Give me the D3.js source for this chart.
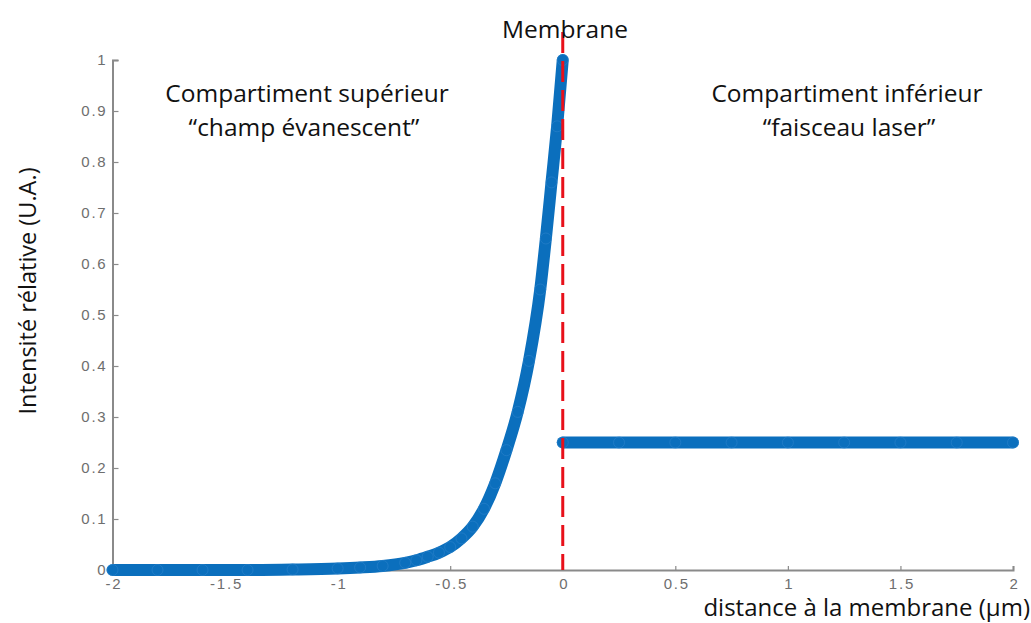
<!DOCTYPE html>
<html>
<head>
<meta charset="utf-8">
<script src="https://cdn.jsdelivr.net/npm/d3@7/dist/d3.min.js"></script>
<style>
  html, body { margin: 0; padding: 0; background: #fff; }
  svg { display: block; }
</style>
</head>
<body>
<svg id="chart" width="1031" height="623"></svg>
<script>
// ---- data ----
const decayX = [-2.0, -1.8, -1.6, -1.4, -1.2, -1.0, -0.9, -0.8, -0.7, -0.65, -0.6, -0.55, -0.5, -0.45, -0.4, -0.35, -0.3, -0.25, -0.2, -0.15, -0.1, -0.075, -0.05, -0.025, 0];
const decayY = [0, 0, 0, 0, 0.001, 0.003, 0.005, 0.008, 0.014, 0.019, 0.026, 0.034, 0.045, 0.062, 0.085, 0.12, 0.17, 0.235, 0.31, 0.41, 0.55, 0.65, 0.76, 0.87, 1.0];
const laserX = [0, 0.25, 0.5, 0.75, 1.0, 1.25, 1.5, 1.75, 2.0];
const laserY = [0.25, 0.25, 0.25, 0.25, 0.25, 0.25, 0.25, 0.25, 0.25];
const xTicks = [-2, -1.5, -1, -0.5, 0, 0.5, 1, 1.5, 2];
const yTicks = [0, 0.1, 0.2, 0.3, 0.4, 0.5, 0.6, 0.7, 0.8, 0.9, 1];
const membraneX = 0;
const membraneTop = 1.055;
const labels = {
  membrane: "Membrane",
  upper: ["Compartiment supérieur", "\u201Cchamp évanescent\u201D"],
  lower: ["Compartiment inférieur", "\u201Cfaisceau laser\u201D"],
  xTitle: "distance à la membrane (µm)",
  yTitle: "Intensité rélative (U.A.)"
};

// ---- layout ----
const svg = d3.select("#chart");
const x = d3.scaleLinear().domain([-2, 2]).range([112.5, 1013]);
const y = d3.scaleLinear().domain([0, 1]).range([570, 60]);
const blue = "#0b6fbd";
const axisGray = "#8a8a8a";
const tickText = "#6e6e6e";

// axes
const xAxis = d3.axisBottom(x).tickValues(xTicks).tickSize(-4).tickPadding(8)
  .tickFormat(d => String(d));
const yAxis = d3.axisLeft(y).tickValues(yTicks).tickSize(-6).tickPadding(5)
  .tickFormat(d => String(d));

const gx = svg.append("g").attr("transform", `translate(0,${y(0)})`).call(xAxis);
const gy = svg.append("g").attr("transform", `translate(${x(-2)},0)`).call(yAxis);
[gx, gy].forEach(g => {
  g.select(".domain").attr("stroke", axisGray).attr("stroke-width", 2);
  g.selectAll(".tick line").attr("stroke", axisGray).attr("stroke-width", 1.2);
  g.selectAll(".tick text")
    .attr("fill", tickText)
    .style("font-family", "'Liberation Sans', Arial, sans-serif")
    .style("font-size", "15px")
    .style("letter-spacing", "1.8px");
});
gx.selectAll(".tick text").attr("dy", "0.71em").attr("dx", "1px");

// data series
const line = d3.line().x(d => x(d[0])).y(d => y(d[1])).curve(d3.curveMonotoneX);
const decay = decayX.map((v, i) => [v, decayY[i]]);
const laser = laserX.map((v, i) => [v, laserY[i]]);

[decay, laser].forEach(series => {
  svg.append("path").datum(series)
    .attr("d", line)
    .attr("fill", "none")
    .attr("stroke", blue)
    .attr("stroke-width", 12)
    .attr("stroke-linecap", "round")
    .attr("stroke-linejoin", "round");
  svg.append("g").selectAll("circle").data(series).join("circle")
    .attr("cx", d => x(d[0]))
    .attr("cy", d => y(d[1]))
    .attr("r", 5.5)
    .attr("fill", "none")
    .attr("stroke", "#2c82cc")
    .attr("stroke-width", 1)
    .attr("stroke-opacity", 0.6);
});

// membrane dashed line
svg.append("line")
  .attr("x1", x(membraneX)).attr("x2", x(membraneX))
  .attr("y1", y(membraneTop)).attr("y2", y(0))
  .attr("stroke", "#e8101a")
  .attr("stroke-width", 3)
  .attr("stroke-dasharray", "21,8");

// annotations
const ann = svg.append("g")
  .style("font-family", "'Open Sans', 'Noto Sans', sans-serif")
  .attr("fill", "#111");

ann.append("text").attr("x", 565).attr("y", 38)
  .attr("text-anchor", "middle").style("font-size", "24.5px").text(labels.membrane);

[307, 304].forEach((cx, i) => {
  ann.append("text").attr("x", cx).attr("y", 102 + i * 34)
    .attr("text-anchor", "middle").style("font-size", "24.5px").text(labels.upper[i]);
});
[847, 849].forEach((cx, i) => {
  ann.append("text").attr("x", cx).attr("y", 102 + i * 34)
    .attr("text-anchor", "middle").style("font-size", "24.5px").text(labels.lower[i]);
});

ann.append("text").attr("x", 1030).attr("y", 616)
  .attr("text-anchor", "end").style("font-size", "24px").text(labels.xTitle);

ann.append("text")
  .attr("transform", `translate(36,291) rotate(-90)`)
  .attr("text-anchor", "middle").style("font-size", "23.5px").text(labels.yTitle);
</script>
</body>
</html>
